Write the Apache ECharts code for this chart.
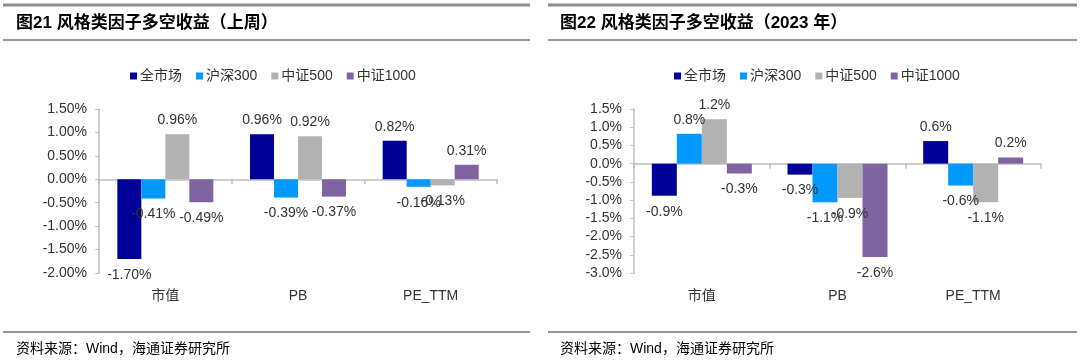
<!DOCTYPE html>
<html>
<head>
<meta charset="utf-8">
<script src="https://cdn.jsdelivr.net/npm/echarts@6/dist/echarts.min.js"></script>
<style>
html,body{margin:0;padding:0;background:#fff;}
#chart{width:1080px;height:363px;}
</style>
</head>
<body>
<div id="chart"></div>
<script>
// ---- data ----
const categories = ['市值', 'PB', 'PE_TTM'];
const seriesNames = ['全市场', '沪深300', '中证500', '中证1000'];
const seriesColors = ['#000099', '#0099FF', '#B2B2B2', '#8064A2'];

// 图21 上周 (%)
const weekAll    = [-1.70, 0.96, 0.82];
const weekHS300  = [-0.41, -0.39, -0.16];
const weekZZ500  = [0.96, 0.92, -0.13];
const weekZZ1000 = [-0.49, -0.37, 0.31];

// 图22 2023年 (%)
const ytdAll    = [-0.88, -0.30, 0.62];
const ytdHS300  = [0.82, -1.06, -0.60];
const ytdZZ500  = [1.22, -0.94, -1.06];
const ytdZZ1000 = [-0.27, -2.56, 0.17];

const leftTitle = '图21 风格类因子多空收益（上周）';
const rightTitle = '图22 风格类因子多空收益（2023 年）';
const sourceText = '资料来源：Wind，海通证券研究所';

// ---- chart ----
const FONT = '"Liberation Sans", Arial, "Noto Sans CJK SC", sans-serif';
const TXT = '#333333';
const AX = '#BFBFBF';

function makeData(vals) {
  return vals.map(v => ({
    value: v,
    label: { position: v >= 0 ? 'top' : 'bottom', distance: v >= 0 ? 7 : 9 }
  }));
}

function makeSeries(groups, gridIdx, decimals, barW) {
  return groups.map((vals, i) => ({
    name: seriesNames[i],
    type: 'bar',
    xAxisIndex: gridIdx * 2,
    yAxisIndex: gridIdx,
    barWidth: barW,
    barGap: '0%',
    itemStyle: { color: seriesColors[i] },
    label: {
      show: true,
      color: TXT,
      fontSize: 14,
      fontFamily: FONT,
      formatter: p => p.value.toFixed(decimals) + '%'
    },
    data: makeData(vals)
  }));
}

function xAxes(gridIdx) {
  return [
    { // zero line axis
      type: 'category', gridIndex: gridIdx, data: categories, position: 'top',
      axisLine: { onZero: true, lineStyle: { color: AX, width: 1.5 } },
      axisTick: { show: true, inside: true, length: 5, lineStyle: { color: AX, width: 1.5 } },
      axisLabel: { show: false }
    },
    { // bottom label axis
      type: 'category', gridIndex: gridIdx, data: categories, position: 'bottom',
      axisLine: { show: false, onZero: false },
      axisTick: { show: false },
      axisLabel: { color: TXT, fontSize: 14, fontFamily: FONT, margin: 16 }
    }
  ];
}

function yAxis(gridIdx, min, max, decimals) {
  return {
    type: 'value', gridIndex: gridIdx, min: min, max: max, interval: 0.5,
    axisLine: { show: true, lineStyle: { color: AX, width: 1.5 } },
    axisTick: { show: true, length: 4, lineStyle: { color: AX } },
    splitLine: { show: false },
    axisLabel: { color: TXT, fontSize: 14, fontFamily: FONT, margin: 12,
      formatter: v => v.toFixed(decimals) + '%' }
  };
}

function legend(left) {
  return {
    left: left, top: 64, icon: 'rect', itemWidth: 7, itemHeight: 7, itemGap: 14,
    data: seriesNames,
    textStyle: { color: TXT, fontSize: 14, fontFamily: FONT, padding: [0, 0, 0, -2] }
  };
}

const chart = echarts.init(document.getElementById('chart'), null, { renderer: 'canvas' });

function hline(x1, x2, y, color, w) {
  return { type: 'line', silent: true, shape: { x1: x1, y1: y, x2: x2, y2: y },
    style: { stroke: color, lineWidth: w } };
}
function text(x, y, t, size, weight) {
  return { type: 'text', silent: true, x: x, y: y,
    style: { text: t, fill: '#000', fontSize: size, fontWeight: weight,
      fontFamily: '"Liberation Sans", Arial, "Noto Sans CJK SC", sans-serif', verticalAlign: 'middle' } };
}

chart.setOption({
  animation: false,
  backgroundColor: '#fff',
  grid: [
    { left: 99, right: 1080 - 497, top: 109, bottom: 363 - 273 },
    { left: 634, right: 1080 - 1041, top: 109, bottom: 363 - 273 }
  ],
  legend: [legend(125), legend(669)],
  xAxis: xAxes(0).concat(xAxes(1)),
  yAxis: [yAxis(0, -2, 1.5, 2), yAxis(1, -3, 1.5, 1)],
  series: makeSeries([weekAll, weekHS300, weekZZ500, weekZZ1000], 0, 2, 24)
    .concat(makeSeries([ytdAll, ytdHS300, ytdZZ500, ytdZZ1000], 1, 1, 25)),
  graphic: [
    hline(3, 530, 5, '#8C8C8C', 3),
    hline(3, 530, 40, '#333', 1.2),
    hline(548, 1077, 5, '#8C8C8C', 3),
    hline(548, 1077, 40, '#333', 1.2),
    hline(3, 530, 332, '#333', 1.2),
    hline(548, 1077, 332, '#333', 1.2),
    text(16, 23, leftTitle, 17, 'bold'),
    text(560, 23, rightTitle, 17, 'bold'),
    text(16, 349, sourceText, 14, 'normal'),
    text(560, 349, sourceText, 14, 'normal')
  ]
});
</script>
</body>
</html>
